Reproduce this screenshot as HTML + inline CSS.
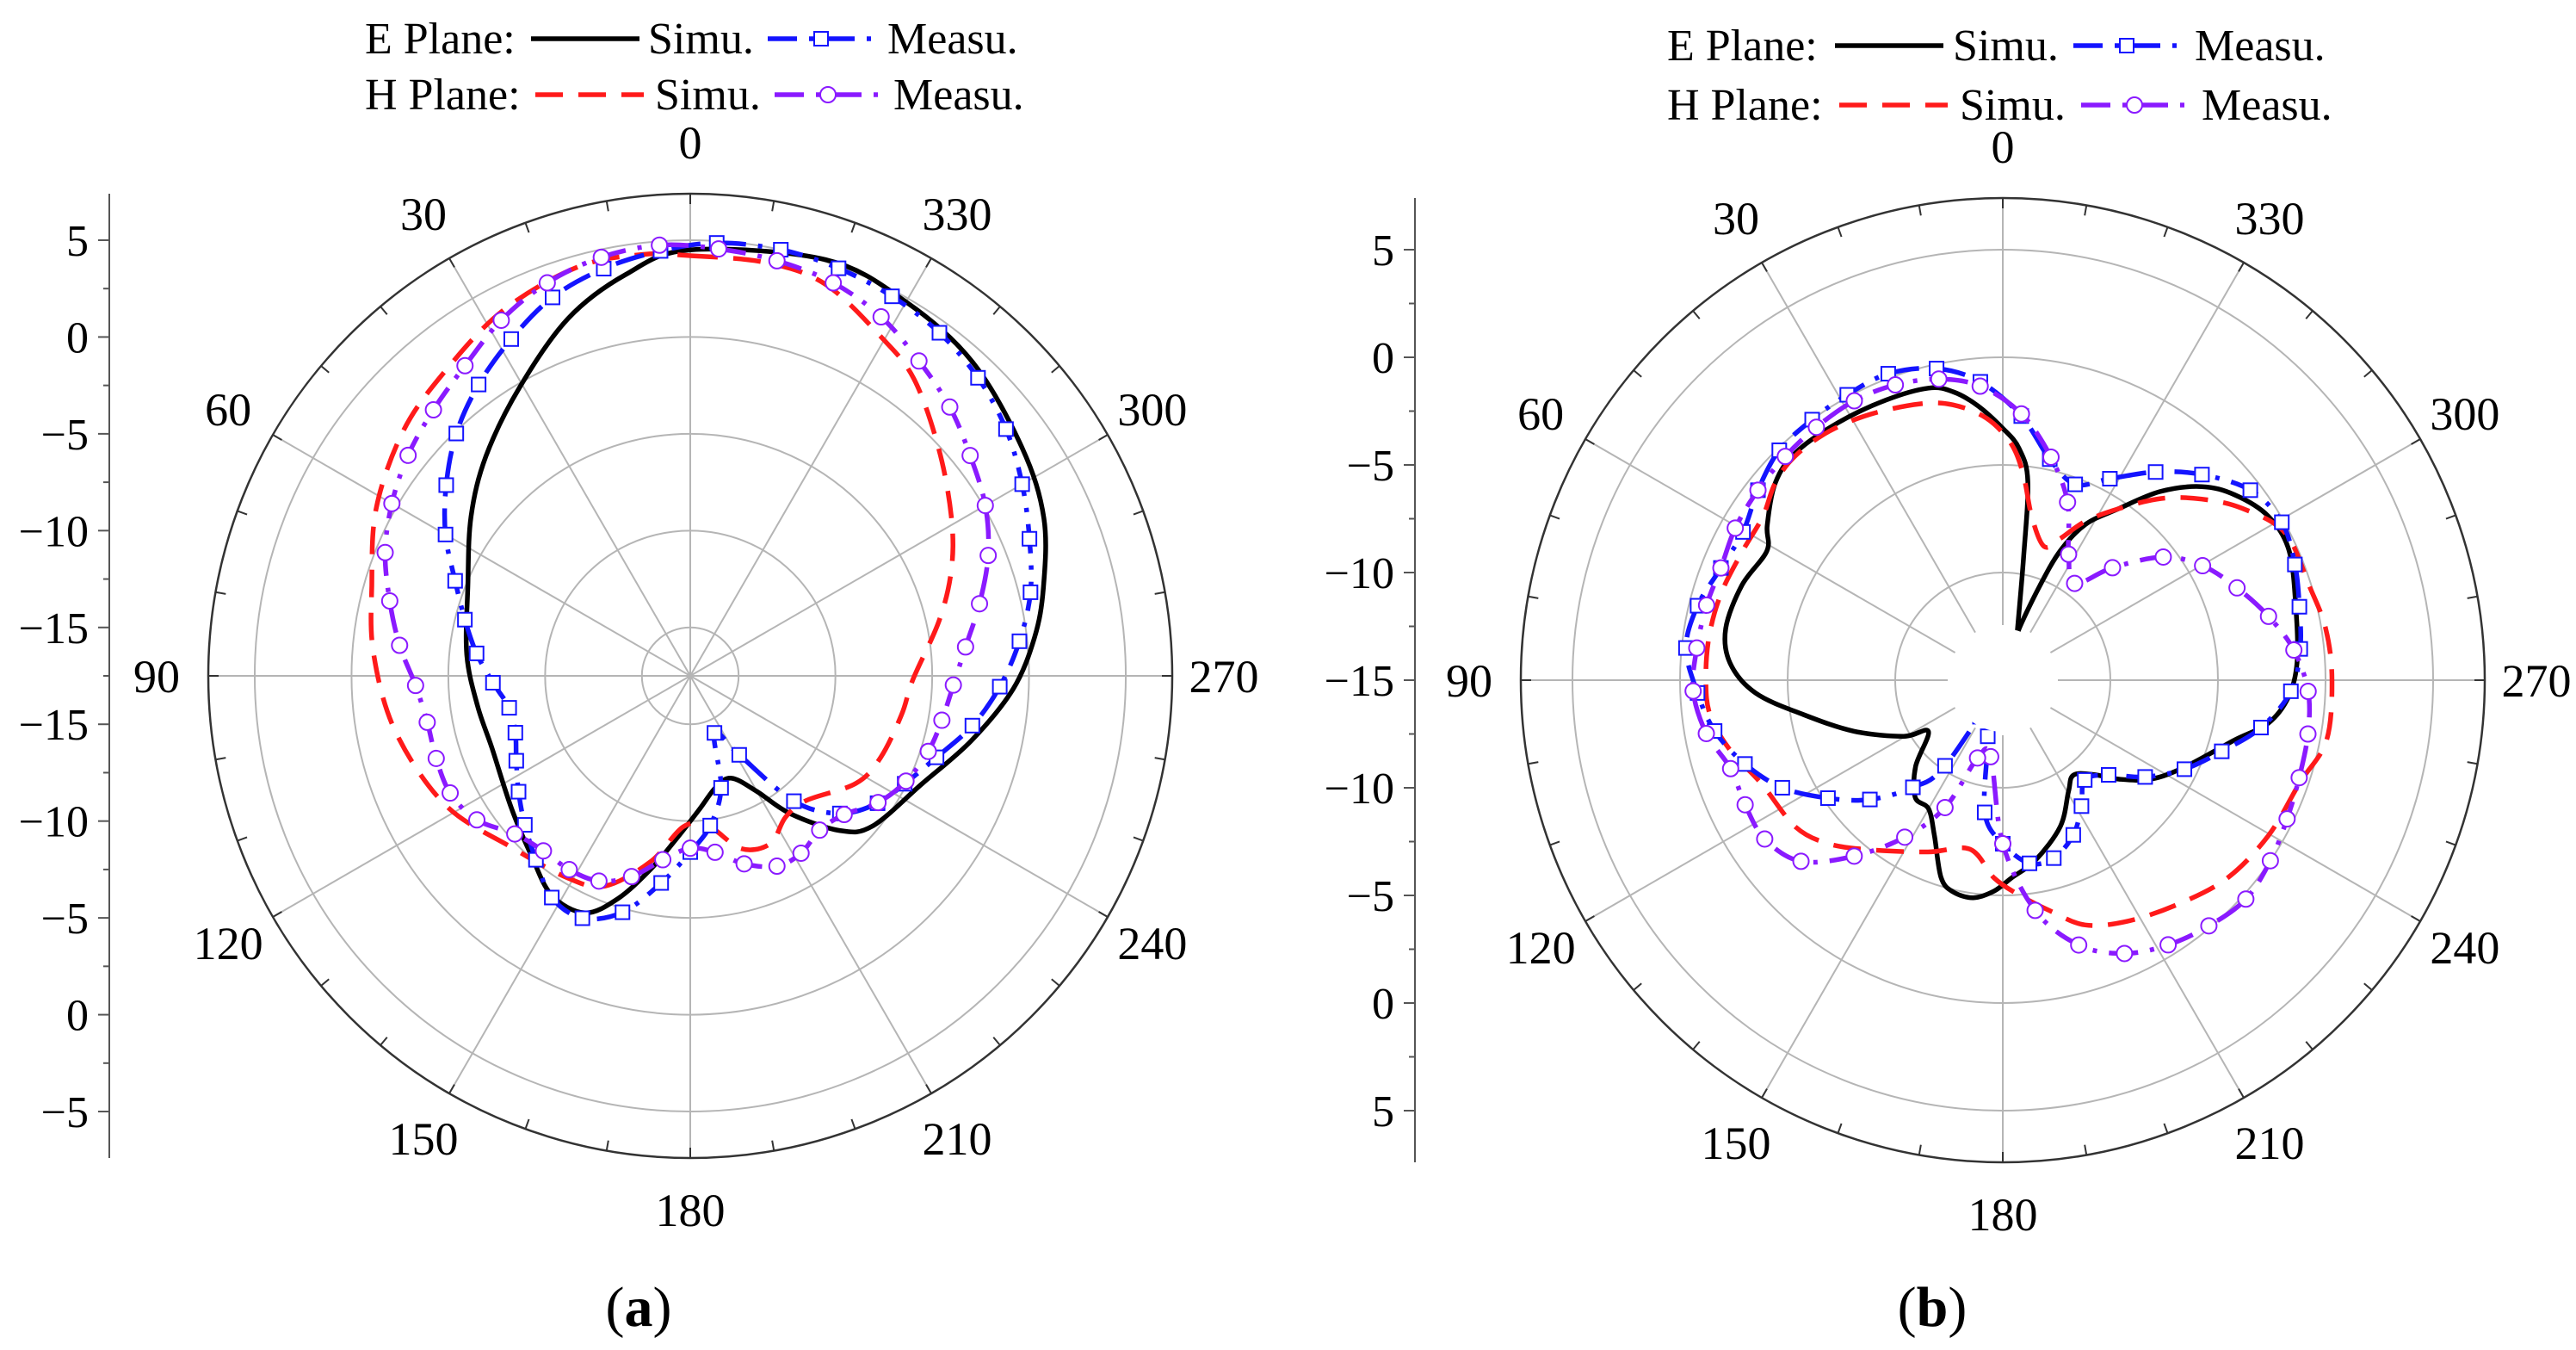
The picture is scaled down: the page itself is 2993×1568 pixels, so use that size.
<!DOCTYPE html>
<html><head><meta charset="utf-8">
<style>
html,body{margin:0;padding:0;background:#fff;}
svg{display:block;font-family:"Liberation Serif",serif;}
</style></head>
<body>
<svg id="fig" width="2993" height="1568" viewBox="0 0 2993 1568" xmlns="http://www.w3.org/2000/svg">
  <g id="panelA"></g>
  <g id="panelB"></g>
  <text x="742" y="1540" font-size="66" text-anchor="middle">(<tspan font-weight="bold">a</tspan>)</text>
  <text x="2245" y="1540" font-size="66" text-anchor="middle">(<tspan font-weight="bold">b</tspan>)</text>
</svg>
<script>
// ---------- Panel (a) data: angle (deg) and gain (dB) ----------
const aESimAng = [0,342,330,318,304.5,294,284,276.4,267.7,257,245,230.5,224,216,210,202,193,184,174.9,168.4,162,156,147.7,138.6,126.6,110,98,84.5,67.9,54,42.9,30.7,18.9,9.1];
const aESimVal = [4.5,5.1,4.8,4.3,3.3,2.5,1.3,0.4,-0.8,-2.6,-4.3,-5.3,-6.4,-8.7,-10.6,-11.8,-11.6,-10.6,-9,-7.3,-5.4,-4.1,-4.1,-5.1,-6,-6.6,-6.4,-5.9,-5.1,-3.5,-2.0,-0.2,2.0,3.5];
const aHSimAng = [0,349.6,341,330.7,323,312.5,301.4,292.4,282.7,269,259.6,246.8,237,223,214,205.5,196.4,186.8,177.4,168,158,149,133.7,117.8,100.7,86,74.2,61.8,49.4,38.8,27.2,15.5,6.5];
const aHSimVal = [4.2,4.2,3.9,2.6,1.7,-0.1,-1.7,-2.9,-4.3,-6,-6.4,-6.8,-7.3,-8.7,-8.7,-7.9,-8.2,-9.7,-9.7,-7.7,-5.8,-5.3,-4.7,-3.2,-2,-1.1,-0.4,0.9,2,2.7,3.7,4.4,4.4];
const aEMeaAng = [356.5,348,340,332,324,316,308,300,292,283.8,276,268,260,251.7,243.3,235.8,227.4,219.6,211.8,203,195.4,187.6,180,172,164,156,148,140,132,124,116,108,100,92,84,76,68,60,52,44,36,28,20,12,4];
const aEMeaVal = [4.9,5,4.9,4.7,4.4,3.9,3.2,2.3,1.4,0.6,-0.4,-1.5,-2.7,-4.1,-5.1,-5.8,-7,-9.1,-12.7,-14.3,-11.5,-9.7,-8.4,-6.7,-4.8,-3.8,-4,-5.1,-6.0,-6.8,-7.5,-8,-8,-7.3,-6.4,-5.5,-4.4,-2.9,-1.5,-0.1,1.1,2.2,3.3,4,4.5];
const aHMeaAng = [4.1,356.2,348.2,340,332,324,316,308.2,300,292,284,276,268,260,252.4,244,236,228,220,212,204.5,196,188,180,171.5,163.7,156,148,140,132,124,116,108,100,92,84,76,68,60,52,44,36,28,20,12];
const aHMeaVal = [4.8,4.6,4.4,4.1,3.5,2.6,1.8,0.9,0.1,-0.9,-2.1,-3.2,-3.9,-4.3,-4.6,-5.1,-5.8,-6.8,-7.1,-6.7,-6.7,-7.4,-8.3,-8.6,-7.9,-6.7,-5.9,-5.7,-5.7,-5.3,-4.2,-3.7,-3.7,-3.7,-3.3,-2.4,-1.5,-0.5,0.3,1,1.6,2.3,3.3,4.1,4.6];

// ---------- Panel (b) data ----------
const bESimAng = [340.4,350.3,352.8,356,0,5.2,9.8,14.3,22.6,32.6,42.2,49,56.7,61.3,70,79.4,86.4,93,99.8,109,119.5,124.6,134.7,143.2,150,156.3,162.6,166.7,172.3,177.7,182.5,190.3,201.5,210.6,216.7,224,229.6,236.4,244.7,255.4,260.8,266.6,273.4,283.2,294.3,301.7,308.6,314.2,320.2,326,332,336,338.6,342.4];
const bESimVal = [-13.1,-9.3,-5.7,-4.2,-3.3,-2.2,-1.4,-1,-0.9,-0.8,-0.7,-1,-1.9,-2.5,-2.1,-1.9,-2.3,-3.5,-5.6,-7.7,-9.7,-10.8,-9.3,-8.2,-8.1,-7.1,-5.4,-4.9,-4.8,-5.2,-5.8,-6.5,-7.7,-9,-9.5,-8.9,-7.9,-6.7,-5.6,-3.9,-2.5,-1.7,-1.3,-1,-0.4,-0.5,-1.2,-2.1,-3.6,-5.4,-6.8,-8.4,-10.3,-12.5];
const bHSimAng = [16.7,26.4,34.9,42.7,49,55.7,63.7,73,81.7,90,96.7,104.2,113.3,125.3,133.2,142,156.5,169,177.5,184.3,192,198.6,207.2,217.8,228.5,239.7,250.9,259.4,270,279,287.2,297.5,305.6,312.3,318.9,326,332.6,337.9,342.8,349.9,354.3,358,3.6,10.3];
const bHSimVal = [-1.6,-1.2,-0.9,-0.8,-1,-1.5,-1.5,-1.3,-1.2,-1.2,-1.3,-1.9,-2.8,-3.2,-3.9,-5,-6.3,-7.0,-5.8,-5,-4,-3,-2.4,-1.8,-1.1,-0.7,-0.4,0.3,0.3,0.2,-0.1,-0.2,-1.3,-2.5,-3.8,-5.4,-6.7,-7.9,-8.5,-7.3,-5.4,-4,-2.8,-2];
const bEMeaAng = [12,4.3,356,348,339.7,332,323.7,315.9,307.5,299.5,291.6,283.9,276,267.8,259.6,252,243.9,235.8,228.2,219.4,212,204.5,196,188.3,180,172.2,165,148,160,146,140,131.9,124,116,108,100,92.4,84.2,76.3,68.3,60.3,52.2,44.2,36.2,28.6,20.5];
const bEMeaVal = [-0.2,-1.1,-2.7,-4.5,-5.3,-4.4,-3,-1.7,-0.5,-0.1,-0.4,-0.8,-1.1,-1.6,-2.8,-4.3,-5.6,-7,-8.4,-9,-8.1,-7.1,-6.4,-6.4,-7.4,-8.8,-12.3,-13,-15,-10.2,-8.5,-6.7,-5.2,-3.6,-2.4,-1.4,-0.8,-0.2,-0.4,-0.9,-1.1,-0.6,-0.1,0,0.1,0.2];
const bHMeaAng = [12,4.4,356,347.8,340,332.4,323.4,315.7,307.5,299.8,291.5,283.5,275.9,267.9,260,251.8,244,236,228,220,212,204,196,188,180,171,162,155.6,148,139.8,131.9,123.7,115.8,108,100.2,92,84,75.8,68.3,60.4,52.2,44.2,36.4,28,20];
const bHMeaVal = [-0.7,-1.3,-2.6,-4.4,-6.2,-8.4,-9.4,-7.7,-5.6,-4.3,-3.3,-2.3,-1.4,-0.8,-0.6,-0.5,-0.3,0,0.2,-0.1,-0.5,-1.1,-2.2,-4.2,-7.4,-11.4,-11.2,-8.5,-6.4,-4.3,-2.4,-1.7,-1.7,-1.7,-1,-0.6,-0.7,-0.8,-0.9,-0.7,-0.6,-0.5,-0.4,-0.3,-0.4];

// axis tick label arrays
const aAxisTicks = [5,0,-5,-10,-15];
const aAxisTicksLow = [-15,-10,-5,0,-5];
const bAxisTicks = [5,0,-5,-10,-15];
const bAxisTicksLow = [-10,-5,0,5];
const angleLabels = [0,30,60,90,120,150,180,210,240,270,300,330];

const NS = "http://www.w3.org/2000/svg";
function mk(parent, tag, attrs){
  const e = document.createElementNS(NS, tag);
  for (const k in attrs) e.setAttribute(k, attrs[k]);
  parent.appendChild(e);
  return e;
}
function fmt(v){ return v < 0 ? "\u2212" + Math.abs(v) : String(v); }
function smoothClosed(P){
  const n = P.length; let d = "M" + P[0][0].toFixed(1) + "," + P[0][1].toFixed(1);
  for (let i = 0; i < n; i++) {
    const p0 = P[(i-1+n)%n], p1 = P[i], p2 = P[(i+1)%n], p3 = P[(i+2)%n];
    const c1x = p1[0] + (p2[0]-p0[0])/6, c1y = p1[1] + (p2[1]-p0[1])/6;
    const c2x = p2[0] - (p3[0]-p1[0])/6, c2y = p2[1] - (p3[1]-p1[1])/6;
    d += " C" + c1x.toFixed(1) + "," + c1y.toFixed(1) + " " + c2x.toFixed(1) + "," + c2y.toFixed(1) + " " + p2[0].toFixed(1) + "," + p2[1].toFixed(1);
  }
  return d + "Z";
}

function drawPanel(g, cfg){
  const cx = cfg.cx, cy = cfg.cy, R = 560;
  const rr = v => Math.max(0, (v - cfg.min) / (cfg.max - cfg.min) * R);
  const px = (a, v) => cx - rr(v) * Math.sin(a * Math.PI / 180);
  const py = (a, v) => cy - rr(v) * Math.cos(a * Math.PI / 180);

  cfg.grid.forEach(v => {
    const c = mk(g, "circle", {cx:cx, cy:cy, r:rr(v), fill:"none", stroke:"#b5b5b5", "stroke-width":2});
    
    
  });
  for (let a = 0; a < 360; a += 30) {
    const s = Math.sin(a*Math.PI/180), co = Math.cos(a*Math.PI/180);
    const l = mk(g, "line", {x1:cx - cfg.hole*s, y1:cy - cfg.hole*co, x2:cx - R*s, y2:cy - R*co, stroke:"#b5b5b5", "stroke-width":2});
    
    
  }
  const oc = mk(g, "circle", {cx:cx, cy:cy, r:R, fill:"none", stroke:"#333", "stroke-width":2.5});
  
  
  for (let a = 0; a < 360; a += 10) {
    const s = Math.sin(a*Math.PI/180), co = Math.cos(a*Math.PI/180);
    const t = mk(g, "line", {x1:cx - (R-12)*s, y1:cy - (R-12)*co, x2:cx - R*s, y2:cy - R*co, stroke:"#333", "stroke-width":2});
    
    
  }
  angleLabels.forEach(a => {
    const s = Math.sin(a*Math.PI/180), co = Math.cos(a*Math.PI/180);
    const t = mk(g, "text", {x:cx - 620*s, y:cy - 620*co + 19, "font-size":54, "text-anchor":"middle"});
    t.textContent = a;
    
    
  });
  const ax = cfg.axisX;
  const al = mk(g, "line", {x1:ax, y1:cy - R, x2:ax, y2:cy + R, stroke:"#555", "stroke-width":2});
  
  
  for (let v = Math.ceil(cfg.min/2.5)*2.5; v <= cfg.max; v += 2.5) {
    const major = Math.abs(v % 5) < 1e-6;
    [cy - rr(v), cy + rr(v)].forEach(y => {
      const t = mk(g, "line", {x1:ax - (major?13:7), y1:y, x2:ax, y2:y, stroke:"#555", "stroke-width":2});
      
      
    });
  }
  cfg.ticks.forEach(v => {
    const t = mk(g, "text", {x:ax - 24, y:cy - rr(v) + 18, "font-size":52, "text-anchor":"end"});
    t.textContent = fmt(v);
    
    
  });
  cfg.ticksLow.forEach((lab, i) => {
    const v = cfg.lowPos[i];
    const t = mk(g, "text", {x:ax - 24, y:cy + rr(v) + 18, "font-size":52, "text-anchor":"end"});
    t.textContent = fmt(lab);
    
    
  });

  cfg.series.forEach(sr => {
    const P = sr.ang.map((a, i) => [px(a, sr.val[i]), py(a, sr.val[i])]);
    const p = mk(g, "path", {d:smoothClosed(P), fill:"none", stroke:sr.color, "stroke-width":5.5, "stroke-dasharray":sr.dash, "stroke-linejoin":"round"});
    
    
    if (sr.marker) {
      sr.ang.forEach((a, i) => {
        if (sr.val[i] <= cfg.min) return;
        const x = px(a, sr.val[i]), y = py(a, sr.val[i]);
        let m;
        if (sr.marker === "square") m = mk(g, "rect", {x:x-8, y:y-8, width:16, height:16, fill:"#fff", stroke:sr.color, "stroke-width":2});
        else m = mk(g, "circle", {cx:x, cy:y, r:9, fill:"#fff", stroke:sr.color, "stroke-width":2});
        
        
      });
    }
  });
  if (cfg.hole > 0) {
    const h = mk(g, "circle", {cx:cx, cy:cy, r:cfg.hole - 4, fill:"#fff"});
    
    
  }

  const L = cfg.legend;
  const rows = [
    {y:L.y1, label:"E Plane:", sim:{color:"#000", dash:"none", x:L.e[0]}, simText:L.e[1], mea:{color:"#1414ff", dash:"34 14 5 14", x:L.e[2], marker:"square"}, meaText:L.e[3]},
    {y:L.y2, label:"H Plane:", sim:{color:"#ff1a1a", dash:"32 18", x:L.h[0]}, simText:L.h[1], mea:{color:"#8a1aff", dash:"34 14 5 14", x:L.h[2], marker:"circle"}, meaText:L.h[3]}
  ];
  rows.forEach(r => {
    const t = mk(g, "text", {x:L.x, y:r.y + 17, "font-size":52});
    t.textContent = r.label;
    
    
    const s = mk(g, "line", {x1:r.sim.x, y1:r.y, x2:r.sim.x + 126, y2:r.y, stroke:r.sim.color, "stroke-width":5.5, "stroke-dasharray":r.sim.dash});
    
    
    const st = mk(g, "text", {x:r.simText, y:r.y + 17, "font-size":52});
    st.textContent = "Simu.";
    
    
    const m = mk(g, "line", {x1:r.mea.x, y1:r.y, x2:r.mea.x + 128, y2:r.y, stroke:r.mea.color, "stroke-width":5.5, "stroke-dasharray":r.mea.dash});
    
    
    const mx = r.mea.x + 62;
    let mm;
    if (r.mea.marker === "square") mm = mk(g, "rect", {x:mx-8, y:r.y-8, width:16, height:16, fill:"#fff", stroke:r.mea.color, "stroke-width":2});
    else mm = mk(g, "circle", {cx:mx, cy:r.y, r:9, fill:"#fff", stroke:r.mea.color, "stroke-width":2});
    
    
    const mt = mk(g, "text", {x:r.meaText, y:r.y + 17, "font-size":52});
    mt.textContent = "Measu.";
    
    
  });
}

drawPanel(document.getElementById("panelA"), {
  cx:802, cy:785, min:-17.5, max:7.4, hole:0, axisX:127,
  grid:[-15,-10,-5,0,5],
  ticks:aAxisTicks, ticksLow:aAxisTicksLow, lowPos:[-15,-10,-5,0,5],
  legend:{x:424, y1:45, y2:110, e:[617,753,892,1031], h:[622,761,900,1038]},
  series:[
    {name:"e-plane-simu-line", ang:aESimAng, val:aESimVal, color:"#000", dash:"none"},
    {name:"h-plane-simu-line", ang:aHSimAng, val:aHSimVal, color:"#ff1a1a", dash:"32 18"},
    {name:"e-plane-measu-line", ang:aEMeaAng, val:aEMeaVal, color:"#1414ff", dash:"34 14 5 14", marker:"square"},
    {name:"h-plane-measu-line", ang:aHMeaAng, val:aHMeaVal, color:"#8a1aff", dash:"34 14 5 14", marker:"circle"}
  ]
});
drawPanel(document.getElementById("panelB"), {
  cx:2327, cy:790, min:-15, max:7.4, hole:64, axisX:1644,
  grid:[-10,-5,0,5],
  ticks:bAxisTicks, ticksLow:bAxisTicksLow, lowPos:[-10,-5,0,5],
  legend:{x:1937, y1:53, y2:122, e:[2132,2269,2409,2550], h:[2137,2277,2418,2558]},
  series:[
    {name:"e-plane-simu-line", ang:bESimAng, val:bESimVal, color:"#000", dash:"none"},
    {name:"h-plane-simu-line", ang:bHSimAng, val:bHSimVal, color:"#ff1a1a", dash:"32 18"},
    {name:"e-plane-measu-line", ang:bEMeaAng, val:bEMeaVal, color:"#1414ff", dash:"34 14 5 14", marker:"square"},
    {name:"h-plane-measu-line", ang:bHMeaAng, val:bHMeaVal, color:"#8a1aff", dash:"34 14 5 14", marker:"circle"}
  ]
});
</script>
</body></html>
